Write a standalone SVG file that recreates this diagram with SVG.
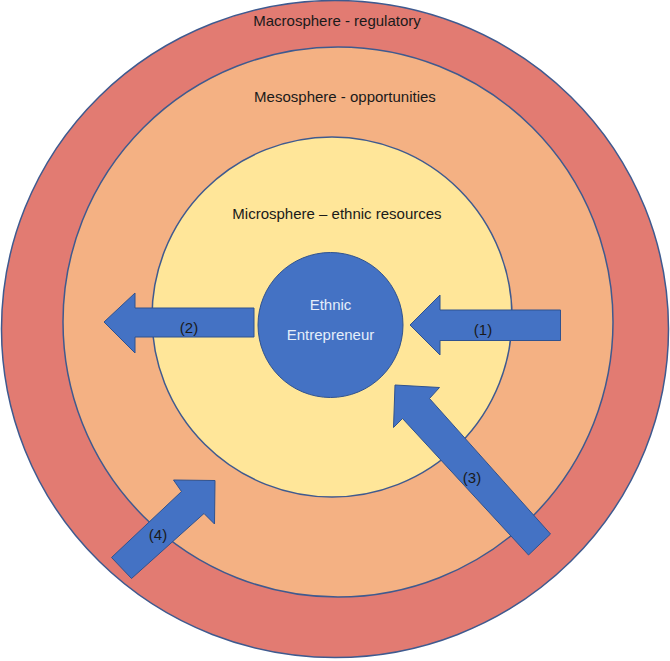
<svg xmlns="http://www.w3.org/2000/svg" width="670" height="661" viewBox="0 0 670 661">
  <style>
    .ring { stroke: #3F5A8F; stroke-width: 1.5; }
    .arrow { fill: #4472C4; stroke: #2F528F; stroke-width: 1; }
    .lbl { font-family: "Liberation Sans", Arial, sans-serif; font-size: 15px; fill: #1A1A1A; text-anchor: middle; }
    .core { font-family: "Liberation Sans", Arial, sans-serif; font-size: 15px; fill: #E4EEFA; text-anchor: middle; }
  </style>
  <rect width="670" height="661" fill="#FFFFFF"/>

  <g id="macrosphere">
    <ellipse class="ring" cx="335" cy="329" rx="333.5" ry="328.5" fill="#E27B72"/>
    <text class="lbl" x="337" y="26">Macrosphere - regulatory</text>
  </g>

  <g id="mesosphere">
    <circle class="ring" cx="338" cy="322" r="275" fill="#F4B183"/>
    <text class="lbl" x="345" y="102">Mesosphere - opportunities</text>
  </g>

  <g id="microsphere">
    <circle class="ring" cx="332" cy="317" r="180" fill="#FFE699"/>
    <text class="lbl" x="337" y="219">Microsphere – ethnic resources</text>
  </g>

  <g id="entrepreneur">
    <circle cx="330.5" cy="325" r="72.5" fill="#4472C4" stroke="#2F528F" stroke-width="1"/>
    <text class="core" x="330.5" y="310">Ethnic</text>
    <text class="core" x="330.5" y="340">Entrepreneur</text>
  </g>

  <g id="connectors">
    <g id="arrow-1">
      <polygon class="arrow" points="560.5,310 440,310 440,295 410,325 440,355 440,340.5 560.5,340.5"/>
      <text class="lbl" x="483" y="335">(1)</text>
    </g>
    <g id="arrow-2">
      <polygon class="arrow" points="254,308 135,308 135,293 104,322 135,353 135,337 254,337"/>
      <text class="lbl" x="189" y="333">(2)</text>
    </g>
    <g id="arrow-3">
      <polygon class="arrow" points="550.5,534 429.5,398.5 439.5,387.5 395,385 393.5,427.5 402.5,418.5 528.5,555"/>
      <text class="lbl" x="472" y="483">(3)</text>
    </g>
    <g id="arrow-4">
      <polygon class="arrow" points="111.5,557.5 181.5,491.5 173.5,480 215,480.5 214.5,524 204,513.5 131.5,578.5"/>
      <text class="lbl" x="158" y="540">(4)</text>
    </g>
  </g>
</svg>
